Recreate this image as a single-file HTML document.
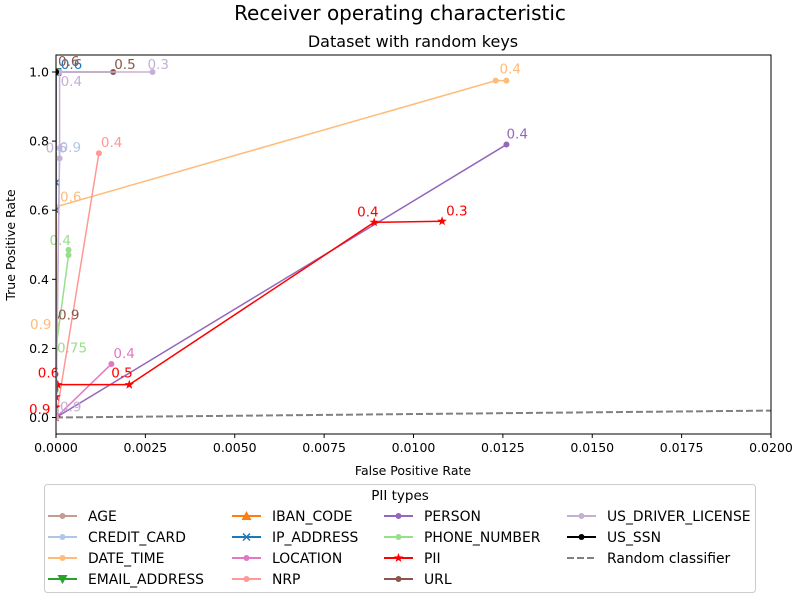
<!DOCTYPE html>
<html><head><meta charset="utf-8"><style>
body{margin:0;background:#fff;font-family:"DejaVu Sans","Liberation Sans",sans-serif}
svg text{font-family:"DejaVu Sans","Liberation Sans",sans-serif}
</style></head><body>
<svg id="chart" width="800" height="600" xmlns="http://www.w3.org/2000/svg">
<rect width="800" height="600" fill="#fff"/>
<text x="400" y="20" font-size="20" text-anchor="middle">Receiver operating characteristic</text>
<text x="413" y="47" font-size="16" text-anchor="middle">Dataset with random keys</text>
<g id="axes"></g>
<g id="series"></g>
<g id="legend"></g>
</svg>
<script>
const xTicks=[0,0.0025,0.005,0.0075,0.01,0.0125,0.015,0.0175,0.02];
const xTickLabels=["0.0000","0.0025","0.0050","0.0075","0.0100","0.0125","0.0150","0.0175","0.0200"];
const yTicks=[0,0.2,0.4,0.6,0.8,1.0];
const yTickLabels=["0.0","0.2","0.4","0.6","0.8","1.0"];
const names=["AGE","CREDIT_CARD","DATE_TIME","EMAIL_ADDRESS","IBAN_CODE","IP_ADDRESS","LOCATION","NRP","PERSON","PHONE_NUMBER","PII","URL","US_DRIVER_LICENSE","US_SSN"];
const colors=["#c49c94","#aec7e8","#ffbb78","#2ca02c","#ff7f0e","#1f77b4","#e377c2","#ff9896","#9467bd","#98df8a","#ff0000","#8c564b","#c5b0d5","#000000"];
const markers=["o","o","o","v","^","x","o","o","o","o","*","o","o","o"];
const fprs=[
 [0,0],
 [0,0.0001],
 [0,0,0,0.0123,0.0126],
 [0,0],
 [0,0],
 [0,0,0,0.00005],
 [0,0.00155],
 [0,0.0012],
 [0,0.0126],
 [0,0,0,0.00035,0.00035],
 [0,0,0,0.00005,0.00205,0.0089,0.0108],
 [0,0,0.0016],
 [0,0,0.0001,0.0001,0.0027],
 [0,0]
];
const tprs=[
 [0,0.01],
 [0,0.78],
 [0,0.27,0.61,0.975,0.975],
 [1,1],
 [1,1],
 [0.6,0.68,1,1],
 [0,0.155],
 [0,0.765],
 [0,0.79],
 [0,0.08,0.2,0.47,0.485],
 [0,0.03,0.06,0.095,0.095,0.565,0.568],
 [0.29,1,1],
 [0,0.02,0.75,1,1],
 [1,1]
];
const thresholdLabels=[
 [],
 ["","0.9"],
 ["","0.9","0.6","","0.4"],
 [],[],
 ["","","","0.6"],
 ["","0.4"],
 ["","0.4"],
 ["","0.4"],
 ["","","0.75","","0.4"],
 ["","0.9","","0.6","0.5","0.4","0.3"],
 ["0.9","0.6","0.5"],
 ["","0.9","0.6","0.4","0.3"],
 []
];
// label placement offsets (styling, px)
const labelDx=[[],[0,0],[0,-26,4,0,-7],[],[],[0,0,0,3],[0,2],[0,2],[0,0],[0,0,1,0,-19],[0,-27,0,-20,-18,-17,4],[2,2,1],[0,4,-14,1,-5],[]];
const labelDy=[[],[0,4],[0,5,-5,0,-7],[],[],[0,0,0,-3],[0,-6],[0,-6],[0,-6],[0,0,4,0,-5],[0,7,0,-7,-7,-6,-6],[2,-6,-3],[0,1,-6,14,-3],[]];
const randX=[0,1],randY=[0,1];
const X0=56,X1=771,Y0=434,Y1=55;
const sx=v=>X0+v/0.02*(X1-X0);
const sy=v=>417.5-v*345.5;
const NS="http://www.w3.org/2000/svg";
function mk(tag,attrs,parent){const e=document.createElementNS(NS,tag);for(const k in attrs)e.setAttribute(k,attrs[k]);parent.appendChild(e);return e;}
const ax=document.getElementById('axes'),sg=document.getElementById('series'),lg=document.getElementById('legend');
xTicks.forEach((t,i)=>{const x=sx(t);
 const l=mk('line',{x1:x,x2:x,y1:Y0,y2:Y0+4,stroke:'#000'},ax);
 
 
 const tx=mk('text',{x:x,y:Y0+18,'font-size':12.5,'text-anchor':'middle'},ax);tx.textContent=xTickLabels[i];
 
 });
yTicks.forEach((t,i)=>{const y=sy(t);
 const l=mk('line',{x1:X0-4,x2:X0,y1:y,y2:y,stroke:'#000'},ax);
 
 
 const tx=mk('text',{x:X0-7,y:y+4.5,'font-size':12.5,'text-anchor':'end'},ax);tx.textContent=yTickLabels[i];
 
 });
let t=mk('text',{x:413,y:475,'font-size':12.5,'text-anchor':'middle'},ax);t.textContent='False Positive Rate';


t=mk('text',{x:15,y:245,'font-size':12.5,'text-anchor':'middle',transform:'rotate(-90 15 245)'},ax);t.textContent='True Positive Rate';


const defs=mk('defs',{},sg);const cp=mk('clipPath',{id:'clip'},defs);mk('rect',{x:X0,y:Y1,width:X1-X0,height:Y0-Y1},cp);
function marker(g,m,x,y,c,s){
 if(m==='o')return mk('circle',{cx:x,cy:y,r:s||3,fill:c},g);
 if(m==='x'){return mk('path',{d:`M${x-3.5},${y-3.5}L${x+3.5},${y+3.5}M${x-3.5},${y+3.5}L${x+3.5},${y-3.5}`,stroke:c,'stroke-width':1.5},g);}
 if(m==='v')return mk('path',{d:`M${x-5},${y-4}L${x+5},${y-4}L${x},${y+5}Z`,fill:c},g);
 if(m==='^')return mk('path',{d:`M${x-5},${y+4}L${x+5},${y+4}L${x},${y-5}Z`,fill:c},g);
 if(m==='*'){let d='';for(let k=0;k<10;k++){const r=k%2?2:5,a=-Math.PI/2+k*Math.PI/5;d+=(k?'L':'M')+(x+r*Math.cos(a)).toFixed(1)+','+(y+r*Math.sin(a)).toFixed(1);}return mk('path',{d:d+'Z',fill:c},g);}
}
const rl=mk('line',{x1:sx(randX[0]),y1:sy(randY[0]),x2:sx(randX[1]),y2:sy(randY[1]),stroke:'#808080','stroke-width':2,'stroke-dasharray':'7,3','clip-path':'url(#clip)'},sg);


names.forEach((n,i)=>{
 const g=mk('g',{'clip-path':'url(#clip)'},sg);
 
 
 const pts=fprs[i].map((f,j)=>[sx(f),sy(tprs[i][j])]);
 mk('polyline',{points:pts.map(p=>p.join(',')).join(' '),fill:'none',stroke:colors[i],'stroke-width':1.5},g);
 pts.forEach(p=>{const m=marker(g,markers[i],p[0],p[1],colors[i]);
  
  });
 (thresholdLabels[i]||[]).forEach((lab,j)=>{if(!lab||!pts[j])return;
  const dx=(labelDx[i]&&labelDx[i][j])||0,dy=(labelDy[i]&&labelDy[i][j])||0;
  const tx=mk('text',{x:pts[j][0]+dx,y:pts[j][1]+dy,'font-size':13.5,fill:colors[i]},sg);tx.textContent=lab;
  
  });
});
mk('rect',{x:X0,y:Y1,width:X1-X0,height:Y0-Y1,fill:'none',stroke:'#000','stroke-width':1},ax.parentNode);
const box=mk('rect',{x:44.5,y:484.5,width:711,height:108,rx:3,fill:'#fff',stroke:'#ccc'},lg);


t=mk('text',{x:400,y:500,'font-size':13.5,'text-anchor':'middle'},lg);t.textContent='PII types';


const colX=[48,232,384,567];
const entries=names.map((n,i)=>({n,c:colors[i],m:markers[i],dash:false})).concat([{n:'Random classifier',c:'#808080',m:null,dash:true}]);
entries.forEach((e,k)=>{
 const col=Math.floor(k/4),row=k%4;const x=colX[col],y=516+row*21;
 const g=mk('g',{},lg);
 
 
 mk('line',{x1:x,x2:x+29,y1:y,y2:y,stroke:e.c,'stroke-width':2,'stroke-dasharray':e.dash?'7,3':'none'},g);
 if(e.m)marker(g,e.m,x+14.5,y,e.c,3);
 const tx=mk('text',{x:x+40,y:y+5,'font-size':13.9},g);tx.textContent=e.n;
});
</script>
</body></html>
